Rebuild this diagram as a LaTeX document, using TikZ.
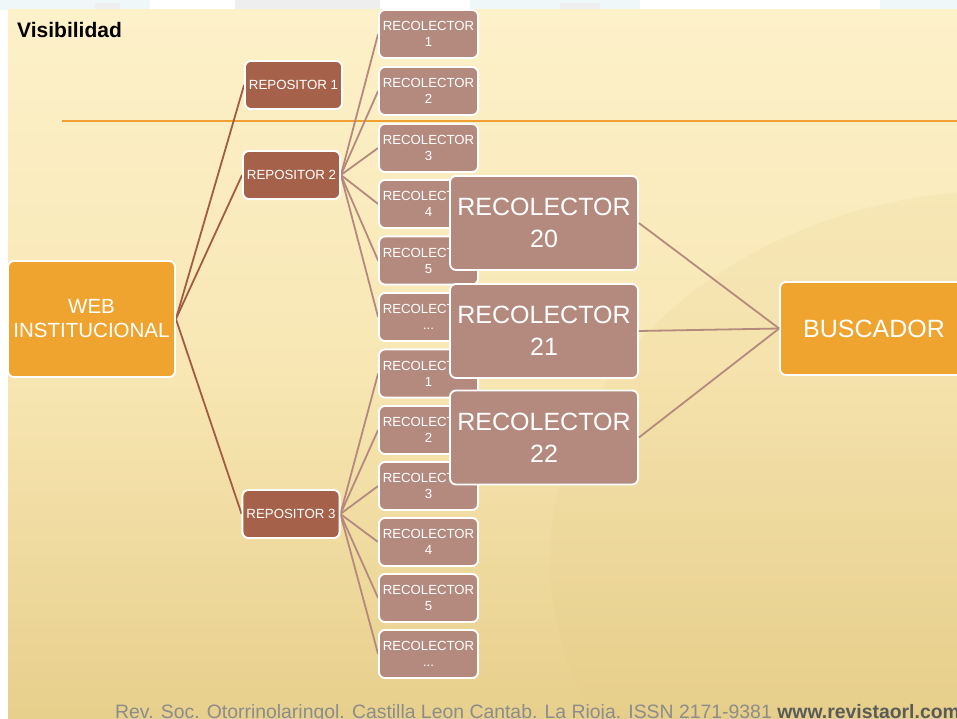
\documentclass[tikz,border=0pt]{standalone}
\usepackage{fontspec}
\setmainfont{Liberation Sans}
\definecolor{bgtop}{HTML}{FDF1CA}
\definecolor{bgmid}{HTML}{F8E7B4}
\definecolor{bgbot}{HTML}{E7CF8C}
\definecolor{orangebox}{HTML}{EFA430}
\definecolor{repbox}{HTML}{A5614A}
\definecolor{recbox}{HTML}{B58A7E}
\definecolor{repline}{HTML}{A25C44}
\definecolor{recline}{HTML}{B58A7E}
\definecolor{rule}{HTML}{F0A030}
\definecolor{foot}{HTML}{8C8C8C}
\definecolor{footb}{HTML}{5A5A5A}
\definecolor{haze}{HTML}{EFF7F9}
\definecolor{hazeg}{HTML}{EEEEEE}
\definecolor{glow}{HTML}{E3C983}
\tikzset{
  box/.style={draw=white, line width=1.8pt, rounded corners=6pt, text=white, align=center, inner sep=0pt},
  webbox/.style={box, fill=orangebox, minimum width=167pt, minimum height=116pt, font=\fontsize{20.5}{24}\selectfont},
  busbox/.style={box, fill=orangebox, minimum width=188pt, minimum height=93pt, font=\fontsize{25}{30}\selectfont},
  repobox/.style={box, fill=repbox, minimum width=97pt, minimum height=48pt, font=\fontsize{13.3}{15}\selectfont},
  smallrec/.style={box, fill=recbox, minimum width=99pt, minimum height=48pt, font=\fontsize{13.2}{16}\selectfont},
  bigrec/.style={box, fill=recbox, minimum width=188pt, minimum height=94pt, font=\fontsize{25}{32}\selectfont},
  repedge/.style={draw=repline, line width=1.8pt},
  recedge/.style={draw=recline, line width=1.8pt},
}
\begin{document}
\begin{tikzpicture}[x=1pt,y=-1pt]
\useasboundingbox (0,0) rectangle (957,719);
\clip (0,0) rectangle (957,719);
% background
\fill[white] (0,0) rectangle (957,719);
\fill[haze] (0,0) rectangle (150,10);
\fill[hazeg] (95,3) rectangle (120,10);
\fill[hazeg] (235,0) rectangle (380,10);
\fill[haze] (470,0) rectangle (640,10);
\fill[hazeg] (560,3) rectangle (600,10);
\fill[haze] (880,0) rectangle (957,10);
\shade[top color=bgtop, bottom color=bgbot, middle color=bgmid] (8,10) rectangle (957,719);
\fill[glow, opacity=0.14] (1010,560) ellipse [x radius=460, y radius=370];
% title and rule
\node[anchor=base west, font=\fontsize{21}{24}\selectfont\bfseries, inner sep=0pt] (title) at (17,38) {Visibilidad};
\coordinate (ruleL) at (62,121);
\coordinate (ruleR) at (957,121);
\draw[rule, line width=1.3pt] (ruleL) -- (ruleR);
% nodes (first pass, to fix positions)
\begin{scope}
\node[webbox] (web) at (91.5,319) {WEB\\INSTITUCIONAL};
\node[repobox] (rep1) at (293.5,85) {REPOSITOR 1};
\node[repobox] (rep2) at (291.5,175) {REPOSITOR 2};
\node[repobox] (rep3) at (291,514) {REPOSITOR 3};
\node[smallrec] (a1) at (428.5,34) {RECOLECTOR\\1};
\node[smallrec] (a2) at (428.5,91) {RECOLECTOR\\2};
\node[smallrec] (a3) at (428.5,148) {RECOLECTOR\\3};
\node[smallrec] (a4) at (428.5,204) {RECOLECTOR\\4};
\node[smallrec] (a5) at (428.5,260.5) {RECOLECTOR\\5};
\node[smallrec] (a6) at (428.5,317) {RECOLECTOR\\...};
\node[smallrec] (b1) at (428.5,373.5) {RECOLECTOR\\1};
\node[smallrec] (b2) at (428.5,430) {RECOLECTOR\\2};
\node[smallrec] (b3) at (428.5,486) {RECOLECTOR\\3};
\node[smallrec] (b4) at (428.5,542) {RECOLECTOR\\4};
\node[smallrec] (b5) at (428.5,598) {RECOLECTOR\\5};
\node[smallrec] (b6) at (428.5,654) {RECOLECTOR\\...};
\end{scope}
% edges
\foreach \r in {rep1,rep2,rep3} \draw[repedge] (web.east) -- (\r.west);
\foreach \c in {a1,a2,a3,a4,a5,a6} \draw[recedge] (rep2.east) -- (\c.west);
\foreach \c in {b1,b2,b3,b4,b5,b6} \draw[recedge] (rep3.east) -- (\c.west);
% redraw nodes above edges
\node[webbox] at (web) {WEB\\INSTITUCIONAL};
\node[repobox] at (rep1) {REPOSITOR 1};
\node[repobox] at (rep2) {REPOSITOR 2};
\node[repobox] at (rep3) {REPOSITOR 3};
\node[smallrec] at (a1) {RECOLECTOR\\1};
\node[smallrec] at (a2) {RECOLECTOR\\2};
\node[smallrec] at (a3) {RECOLECTOR\\3};
\node[smallrec] at (a4) {RECOLECTOR\\4};
\node[smallrec] at (a5) {RECOLECTOR\\5};
\node[smallrec] at (a6) {RECOLECTOR\\...};
\node[smallrec] at (b1) {RECOLECTOR\\1};
\node[smallrec] at (b2) {RECOLECTOR\\2};
\node[smallrec] at (b3) {RECOLECTOR\\3};
\node[smallrec] at (b4) {RECOLECTOR\\4};
\node[smallrec] at (b5) {RECOLECTOR\\5};
\node[smallrec] at (b6) {RECOLECTOR\\...};
% big recolectors and buscador
\node[bigrec] (c20) at (544,223) {RECOLECTOR\\20};
\node[bigrec] (c21) at (544,331) {RECOLECTOR\\21};
\node[bigrec] (c22) at (544,437.5) {RECOLECTOR\\22};
\node[busbox] (bus) at (874,328.5) {BUSCADOR};
\foreach \c in {c20,c21,c22} \draw[recedge] (\c.east) -- (bus.west);
% footer
\node[anchor=base west, inner sep=0pt, font=\fontsize{19.4}{21}\selectfont, text=foot] (footer) at (115,718) {Rev. Soc. Otorrinolaringol. Castilla Leon Cantab. La Rioja. ISSN 2171-9381 \textcolor{footb}{\bfseries www.revistaorl.com}};
\end{tikzpicture}
\end{document}
